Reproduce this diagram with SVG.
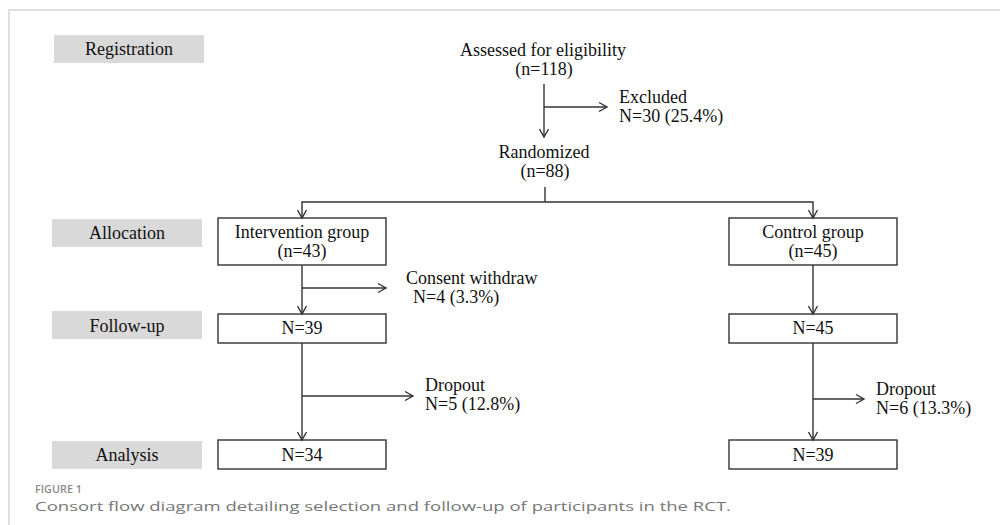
<svg xmlns="http://www.w3.org/2000/svg" width="1000" height="525" viewBox="0 0 1000 525">
  <style>
    .t { font-family: "Liberation Serif", "Times New Roman", serif; font-size: 18px; fill: #111111; }
    .c { text-anchor: middle; }
    .stage { fill: #d9d9d9; stroke: none; }
    .box { fill: #ffffff; stroke: #333333; stroke-width: 1.4; }
    .ln { fill: none; stroke: #333333; stroke-width: 1.4; }
    .arr { marker-end: url(#ah); }
    .cap1 { font-family: "Open Sans", "Liberation Sans", sans-serif; font-size: 10.5px; font-weight: 600; fill: #8a8a8a; }
    .cap2 { font-family: "Open Sans", "Liberation Sans", sans-serif; font-size: 13.5px; fill: #777777; }
  </style>
  <defs>
    <marker id="ah" markerUnits="userSpaceOnUse" markerWidth="12" markerHeight="12" viewBox="-10 -6 12 12" refX="0" refY="0" orient="auto">
      <path d="M-8,-4.5 L0,0 L-8,4.5" fill="none" stroke="#333333" stroke-width="1.4"/>
    </marker>
  </defs>
  <rect x="0" y="0" width="1000" height="525" fill="#ffffff"/>
  <path d="M9,525 L9,10 L1000,10" fill="none" stroke="#e0e0e0" stroke-width="2"/>

  <g id="stage-registration"><rect class="stage" x="54" y="35" width="150" height="28"/><text class="t c" x="129" y="55">Registration</text></g>
  <g id="stage-allocation"><rect class="stage" x="52" y="219" width="150" height="28"/><text class="t c" x="127" y="239">Allocation</text></g>
  <g id="stage-followup"><rect class="stage" x="52" y="311" width="150" height="28"/><text class="t c" x="127" y="332">Follow-up</text></g>
  <g id="stage-analysis"><rect class="stage" x="52" y="441" width="150" height="28"/><text class="t c" x="127" y="461">Analysis</text></g>

  <g id="assessed"><text class="t c" x="543" y="56">Assessed for eligibility</text><text class="t c" x="544" y="75">(n=118)</text></g>
  <g id="excluded"><text class="t" x="619" y="103">Excluded</text><text class="t" x="619" y="122">N=30 (25.4%)</text></g>
  <g id="randomized"><text class="t c" x="544" y="158">Randomized</text><text class="t c" x="545" y="177">(n=88)</text></g>

  <g id="intervention"><rect class="box" x="218" y="218" width="168" height="47"/><text class="t c" x="302" y="238">Intervention group</text><text class="t c" x="302" y="257">(n=43)</text></g>
  <g id="control"><rect class="box" x="729" y="218" width="168" height="47"/><text class="t c" x="813" y="238">Control group</text><text class="t c" x="813" y="257">(n=45)</text></g>

  <g id="withdraw"><text class="t" x="406" y="284">Consent withdraw</text><text class="t" x="413" y="303">N=4 (3.3%)</text></g>

  <g id="int-follow"><rect class="box" x="218" y="314" width="168" height="29"/><text class="t c" x="302" y="334">N=39</text></g>
  <g id="ctl-follow"><rect class="box" x="729" y="314" width="168" height="29"/><text class="t c" x="813" y="334">N=45</text></g>

  <g id="dropout-int"><text class="t" x="425" y="391">Dropout</text><text class="t" x="425" y="410">N=5 (12.8%)</text></g>
  <g id="dropout-ctl"><text class="t" x="876" y="395">Dropout</text><text class="t" x="876" y="414">N=6 (13.3%)</text></g>

  <g id="int-analysis"><rect class="box" x="218" y="440" width="168" height="29"/><text class="t c" x="302" y="461">N=34</text></g>
  <g id="ctl-analysis"><rect class="box" x="729" y="440" width="168" height="29"/><text class="t c" x="813" y="461">N=39</text></g>

  <g id="connectors">
    <path class="ln arr" d="M544,84 L544,137"/>
    <path class="ln arr" d="M544,107 L607,107"/>
    <path class="ln" d="M545,187 L545,202"/>
    <path class="ln arr" d="M545,202 L302,202 L302,218"/>
    <path class="ln arr" d="M545,202 L813,202 L813,218"/>
    <path class="ln arr" d="M302,265 L302,314"/>
    <path class="ln arr" d="M302,288 L386,288"/>
    <path class="ln arr" d="M813,265 L813,314"/>
    <path class="ln arr" d="M302,343 L302,440"/>
    <path class="ln arr" d="M302,396 L413,396"/>
    <path class="ln arr" d="M813,343 L813,440"/>
    <path class="ln arr" d="M813,399 L864,399"/>
  </g>

  <g id="caption">
    <text class="cap1" x="35" y="493" textLength="47" lengthAdjust="spacingAndGlyphs">FIGURE 1</text>
    <text class="cap2" x="35" y="511" textLength="696" lengthAdjust="spacingAndGlyphs">Consort flow diagram detailing selection and follow-up of participants in the RCT.</text>
  </g>
</svg>
